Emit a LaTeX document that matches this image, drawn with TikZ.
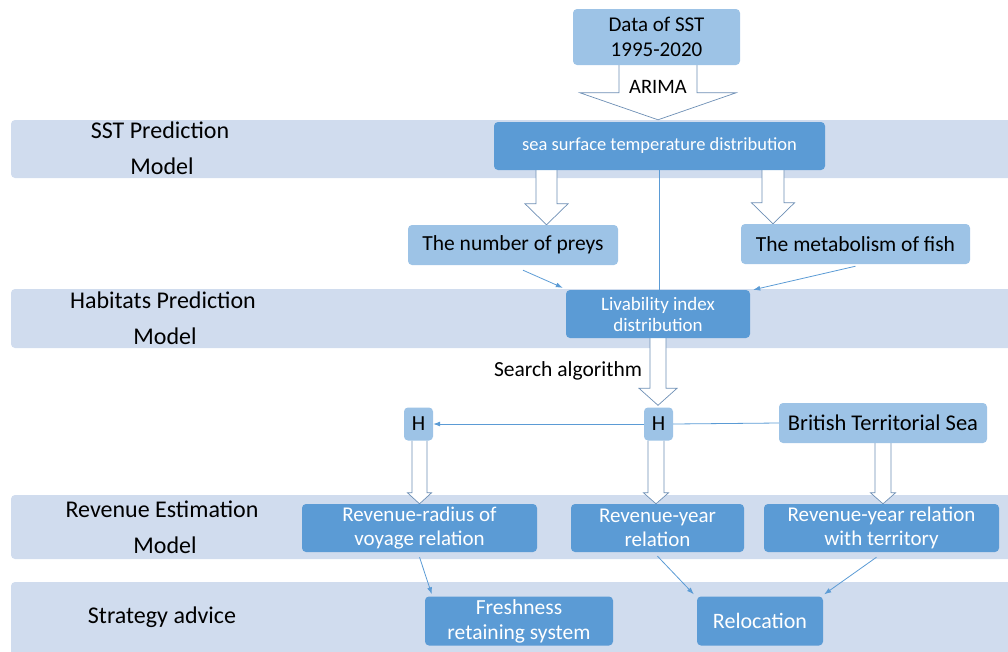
\documentclass[tikz,border=0pt]{standalone}
\usepackage{fontspec}
\setmainfont{Carlito}
\usetikzlibrary{calc,arrows.meta}
\pgfdeclarelayer{bg}
\pgfdeclarelayer{mid}
\pgfsetlayers{bg,mid,main}
\definecolor{bandc}{HTML}{D0DCEE}
\definecolor{lightbox}{HTML}{9DC3E6}
\definecolor{darkbox}{HTML}{5B9BD5}
\definecolor{linec}{HTML}{5B9BD5}
\definecolor{outl}{HTML}{6D8FB5}
\newcommand{\blockarr}[5]{%
  \fill[white] ($(#1)+(-#3,0)$) -- ($(#2)+(-#3,-#5)$) -- ($(#2)+(-#4,-#5)$) -- (#2) -- ($(#2)+(#4,-#5)$) -- ($(#2)+(#3,-#5)$) -- ($(#1)+(#3,0)$) -- cycle;
  \draw[barrow] ($(#1)+(-#3,0)$) -- ($(#2)+(-#3,-#5)$) -- ($(#2)+(-#4,-#5)$) -- (#2) -- ($(#2)+(#4,-#5)$) -- ($(#2)+(#3,-#5)$) -- ($(#1)+(#3,0)$);}
\begin{document}
\begin{tikzpicture}[x=1pt,y=-1pt,
  band/.style={fill=bandc, rounded corners=4pt},
  lbox/.style={fill=lightbox, rounded corners=4pt, inner sep=0pt, align=center, text=black, font=\fontsize{21.5}{25}\selectfont},
  dbox/.style={fill=darkbox, rounded corners=4pt, inner sep=0pt, align=center, text=white, font=\fontsize{21}{23.5}\selectfont},
  lbl/.style={inner sep=0pt, text=black, font=\fontsize{24}{26}\selectfont},
  barrow/.style={draw=outl, line width=0.7pt, line join=miter},
  conn/.style={draw=linec, line width=0.8pt, -{Latex[length=7pt,width=5pt]}},
  plain/.style={draw=linec, line width=0.8pt}]
\useasboundingbox (0,0) rectangle (1008,651);
% bands
\begin{pgfonlayer}{bg}
\fill[band] (11,120) rectangle (1020,178);
\fill[band] (11,289) rectangle (1020,348);
\fill[band] (11,495) rectangle (1020,559);
\fill[band] (11,582) rectangle (1020,665);
\end{pgfonlayer}
% band labels
\node[lbl] (l1a) at (160,130) {SST Prediction};
\node[lbl] (l1b) at (162,166) {Model};
\node[lbl] (l2a) at (163,300) {Habitats Prediction};
\node[lbl] (l2b) at (165,336) {Model};
\node[lbl] (l3a) at (162,509) {Revenue Estimation};
\node[lbl] (l3b) at (165,545) {Model};
\node[lbl] (l4a) at (162,617) {Strategy advice};
% boxes
\node[lbox, minimum width=167pt, minimum height=56pt, font=\fontsize{21}{25}\selectfont] (data) at (656.5,37) {Data of SST\\1995-2020};
\node[dbox, minimum width=331pt, minimum height=48pt, font=\fontsize{18.5}{20}\selectfont] (sst) at (659.5,146) {sea\ surface\ temperature\ distribution};
\node[lbox, minimum width=210pt, minimum height=40pt] (preys) at (513,245) {The number of preys};
\node[lbox, minimum width=229pt, minimum height=40pt] (metab) at (855.5,244) {The metabolism of fish};
\node[dbox, minimum width=184pt, minimum height=48pt, font=\fontsize{19}{21}\selectfont] (liv) at (658,314) {Livability index\\distribution};
\node[lbl, font=\fontsize{21.5}{24}\selectfont] (search) at (568,371) {Search algorithm};
\node[lbox, minimum width=29pt, minimum height=33pt] (h1) at (418.5,424) {H};
\node[lbox, minimum width=29pt, minimum height=33pt] (h2) at (658.5,424) {H};
\node[lbox, minimum width=208pt, minimum height=40pt, font=\fontsize{22.5}{25}\selectfont] (brit) at (883,423) {British Territorial Sea};
\node[dbox, minimum width=235pt, minimum height=48pt] (rev1) at (419.5,528) {Revenue-radius of\\voyage relation};
\node[dbox, minimum width=173pt, minimum height=48pt] (rev2) at (657.5,528) {Revenue-year\\relation};
\node[dbox, minimum width=235pt, minimum height=48pt] (rev3) at (881.5,528) {Revenue-year relation\\with territory};
\node[dbox, minimum width=188pt, minimum height=49pt, font=\fontsize{21.5}{25}\selectfont] (fresh) at (519,621) {Freshness\\retaining system};
\node[dbox, minimum width=126pt, minimum height=49pt, font=\fontsize{22}{25}\selectfont] (reloc) at (760,621) {Relocation};
% block arrows
\begin{pgfonlayer}{mid}
\coordinate (a0s) at (658,0 |- data.south);
\coordinate (a0e) at (658,0 |- sst.north);
\blockarr{a0s}{$(a0e)+(0,-2)$}{39}{78}{27}
\coordinate (a1s) at (546.5,0 |- sst.south);
\coordinate (a1e) at (546.5,0 |- preys.north);
\blockarr{a1s}{a1e}{10.5}{21.5}{21}
\coordinate (a2s) at (773,0 |- sst.south);
\coordinate (a2e) at (773,0 |- metab.north);
\blockarr{a2s}{a2e}{11}{21.5}{21}
\coordinate (a3s) at (658,0 |- liv.south);
\coordinate (a3e) at (658,0 |- h2.north);
\blockarr{a3s}{$(a3e)+(0,-2)$}{8}{19}{17}
\coordinate (a4s) at (419.5,0 |- h1.south);
\coordinate (a4e) at (419.5,0 |- rev1.north);
\blockarr{a4s}{a4e}{7.5}{12}{11}
\coordinate (a5s) at (656,0 |- h2.south);
\coordinate (a5e) at (656,0 |- rev2.north);
\blockarr{a5s}{a5e}{8}{12.5}{11}
\coordinate (a6s) at (883,0 |- brit.south);
\coordinate (a6e) at (883,0 |- rev3.north);
\blockarr{a6s}{a6e}{8}{12.5}{11}
\end{pgfonlayer}
\node[lbl, font=\fontsize{20.5}{24}\selectfont] (arima) at (658,87) {ARIMA};
% connectors
\draw[plain] (659,0 |- sst.south) -- (659,0 |- liv.north);
\draw[conn] ($(preys.south)+(10,5)$) -- ($(liv.north west)+(-3,-2)$);
\draw[conn] ($(metab.south)+(0,2)$) -- ($(liv.north east)+(3,0)$);
\draw[conn] (h2.west) -- (h1.east);
\draw[plain] (brit.west) -- (h2.east);
\draw[conn] ($(rev1.south)+(0,5)$) -- ($(fresh.north west)+(7,-2)$);
\draw[conn] ($(rev2.south)+(0,4)$) -- ($(reloc.north west)+(-3,-2)$);
\draw[conn] ($(rev3.south)+(-5,5)$) -- ($(reloc.north east)+(1,-2)$);
\end{tikzpicture}
\end{document}
